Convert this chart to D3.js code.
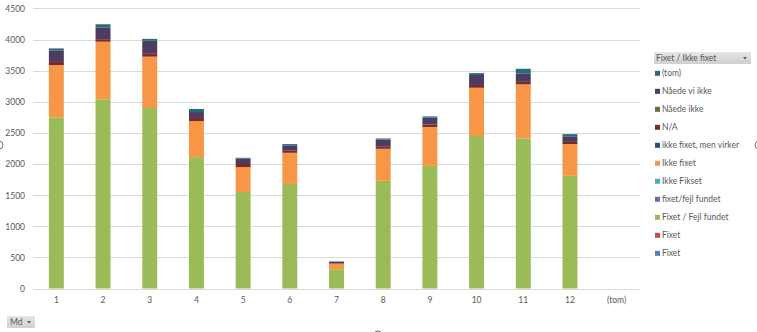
<!DOCTYPE html>
<html>
<head>
<meta charset="utf-8">
<script src="https://cdn.jsdelivr.net/npm/d3@7/dist/d3.min.js"></script>
<style>
  html, body { margin: 0; padding: 0; background: #ffffff; }
  svg { display: block; }
  text { font-family: Lato, "Open Sans", sans-serif; fill: #595959; }
</style>
</head>
<body>
<svg id="chart" width="757" height="332"></svg>
<script>
// Months on the category axis
const categories = ["1", "2", "3", "4", "5", "6", "7", "8", "9", "10", "11", "12", "(tom)"];

// One array per status, listed bottom of the stack first
const fixetBlue          = [0, 0, 0, 0, 0, 0, 0, 0, 0, 0, 0, 0, 0];
const fixetRed           = [0, 0, 0, 0, 0, 0, 0, 0, 0, 0, 0, 0, 0];
const fixetFejlFundet    = [2750, 3040, 2900, 2110, 1550, 1680, 310, 1730, 1970, 2450, 2410, 1810, 0];
const fixetFejlFundetLc  = [0, 0, 0, 0, 0, 0, 0, 0, 0, 0, 0, 0, 0];
const ikkeFikset         = [0, 0, 0, 0, 0, 0, 0, 0, 0, 0, 0, 0, 0];
const ikkeFixet          = [840, 925, 825, 580, 400, 500, 90, 515, 625, 775, 870, 510, 0];
const ikkeFixetMenVirker = [0, 0, 0, 0, 0, 0, 0, 0, 0, 0, 0, 0, 0];
const naValues           = [50, 40, 55, 50, 50, 40, 10, 40, 40, 45, 40, 35, 0];
const naaedeIkke         = [0, 0, 0, 0, 0, 0, 0, 0, 0, 0, 0, 0, 0];
const naaedeViIkke       = [180, 190, 200, 95, 85, 80, 20, 110, 110, 160, 130, 90, 0];
const tomValues          = [37, 50, 30, 50, 15, 20, 5, 15, 20, 30, 80, 35, 0];

// Legend labels, top to bottom as shown in the field list
const legendLabels = ["(tom)", "Nåede vi ikke", "Nåede ikke", "N/A", "ikke fixet, men virker",
  "Ikke fixet", "Ikke Fikset", "fixet/fejl fundet", "Fixet / Fejl fundet", "Fixet", "Fixet"];

const yTicks = [0, 500, 1000, 1500, 2000, 2500, 3000, 3500, 4000, 4500];

// Series in stacking order (bottom to top)
const series = [
  { key: "s0",  name: "Fixet",                  color: "#4f81bd", values: fixetBlue },
  { key: "s1",  name: "Fixet",                  color: "#c0504d", values: fixetRed },
  { key: "s2",  name: "Fixet / Fejl fundet",    color: "#9bbb59", values: fixetFejlFundet },
  { key: "s3",  name: "fixet/fejl fundet",      color: "#8064a2", values: fixetFejlFundetLc },
  { key: "s4",  name: "Ikke Fikset",            color: "#4bacc6", values: ikkeFikset },
  { key: "s5",  name: "Ikke fixet",             color: "#f79646", values: ikkeFixet },
  { key: "s6",  name: "ikke fixet, men virker", color: "#2c4d75", values: ikkeFixetMenVirker },
  { key: "s7",  name: "N/A",                    color: "#772c2a", values: naValues },
  { key: "s8",  name: "Nåede ikke",             color: "#5f7530", values: naaedeIkke },
  { key: "s9",  name: "Nåede vi ikke",          color: "#4d3b62", values: naaedeViIkke },
  { key: "s10", name: "(tom)",                  color: "#276a7c", values: tomValues }
];

const table = categories.map((c, i) => {
  const row = { cat: c };
  series.forEach(s => { row[s.key] = s.values[i]; });
  return row;
});

const svg = d3.select("#chart");

const plot = { left: 33, right: 640, top: 8.4, bottom: 288.5 };

const x = d3.scaleBand()
  .domain(categories)
  .range([plot.left, plot.right])
  .paddingInner(0.68)
  .paddingOuter(0.34);

const y = d3.scaleLinear()
  .domain([0, 4500])
  .range([plot.bottom, plot.top]);

// Horizontal gridlines
svg.append("g")
  .selectAll("line")
  .data(yTicks)
  .join("line")
  .attr("x1", plot.left)
  .attr("x2", plot.right)
  .attr("y1", d => Math.round(y(d)) + 0.5)
  .attr("y2", d => Math.round(y(d)) + 0.5)
  .attr("stroke", "#d9d9d9")
  .attr("stroke-width", 1);

// Y axis labels (plain integers, no thousands separator)
const yAxis = d3.axisLeft(y).tickValues(yTicks).tickFormat(d3.format("d")).tickSize(0).tickPadding(0);
const yg = svg.append("g")
  .attr("transform", "translate(25,0)")
  .call(yAxis);
yg.select(".domain").remove();
yg.selectAll("text")
  .style("font-size", "8.5px")
  .attr("fill", "#595959")
  .attr("dy", "0.34em");

// X axis labels
const xAxis = d3.axisBottom(x).tickSize(0).tickPadding(0);
const xg = svg.append("g")
  .attr("transform", `translate(0,${plot.bottom + 8})`)
  .call(xAxis);
xg.select(".domain").remove();
xg.selectAll("text")
  .style("font-size", "8.5px")
  .attr("fill", "#595959")
  .attr("dy", "0.71em");

// Stacked bars
const stacked = d3.stack().keys(series.map(s => s.key))(table);
svg.append("g")
  .selectAll("g")
  .data(stacked)
  .join("g")
  .attr("fill", (d, i) => series[i].color)
  .selectAll("rect")
  .data(d => d.filter(p => p[1] - p[0] > 0))
  .join("rect")
  .attr("x", d => x(d.data.cat))
  .attr("width", x.bandwidth())
  .attr("y", d => y(d[1]))
  .attr("height", d => y(d[0]) - y(d[1]));

// Legend field button
const legX = 654, legY = 52;
const grad = svg.append("defs").append("linearGradient")
  .attr("id", "btnGrad").attr("x1", 0).attr("y1", 0).attr("x2", 0).attr("y2", 1);
grad.append("stop").attr("offset", "0%").attr("stop-color", "#e6e6e6");
grad.append("stop").attr("offset", "100%").attr("stop-color", "#d0d0d0");

svg.append("rect")
  .attr("x", legX).attr("y", legY)
  .attr("width", 97).attr("height", 12)
  .attr("fill", "url(#btnGrad)");
svg.append("text")
  .attr("x", legX + 2).attr("y", legY + 9)
  .style("font-size", "8.5px")
  .attr("fill", "#404040")
  .text("Fixet / Ikke fixet");
svg.append("path")
  .attr("d", `M${legX + 89},${legY + 5} l4,0 l-2,2.5 z`)
  .attr("fill", "#595959");

// Legend entries
const legendColors = series.slice().reverse().map(s => s.color);
const lg = svg.append("g")
  .selectAll("g")
  .data(legendLabels)
  .join("g")
  .attr("transform", (d, i) => `translate(655,${73.3 + i * 18})`);
lg.append("rect")
  .attr("x", 0).attr("y", -2.5)
  .attr("width", 5).attr("height", 5)
  .attr("fill", (d, i) => legendColors[i]);
lg.append("text")
  .attr("x", 7).attr("y", 0)
  .attr("dy", "0.34em")
  .style("font-size", "8.5px")
  .attr("fill", "#595959")
  .text(d => d);

// "Md" field button
svg.append("rect")
  .attr("x", 7).attr("y", 316)
  .attr("width", 28).attr("height", 12)
  .attr("fill", "url(#btnGrad)");
svg.append("text")
  .attr("x", 10).attr("y", 325)
  .style("font-size", "8.5px")
  .attr("fill", "#404040")
  .text("Md");
svg.append("path")
  .attr("d", "M27,321 l4,0 l-2,2.5 z")
  .attr("fill", "#595959");

// Chart frame resize handles
const handles = [[-1, 145], [759, 145], [378, 335]];
svg.append("g")
  .selectAll("circle")
  .data(handles)
  .join("circle")
  .attr("cx", d => d[0])
  .attr("cy", d => d[1])
  .attr("r", 4)
  .attr("fill", "#ffffff")
  .attr("stroke", "#6f6f6f")
  .attr("stroke-width", 1);
</script>
</body>
</html>
